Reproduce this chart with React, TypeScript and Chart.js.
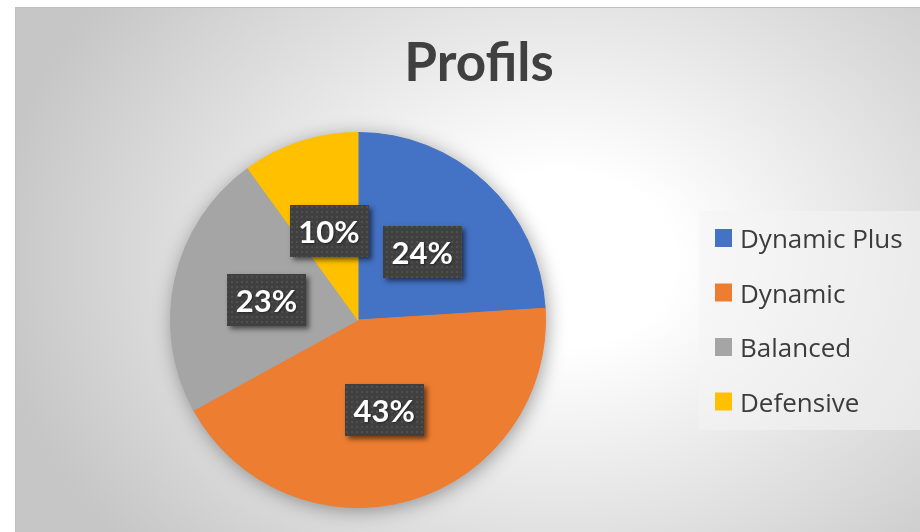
import React, { useEffect, useRef } from "react";
import { Chart, registerables } from "chart.js";
Chart.register(...registerables);

const TITLE = "Profils";
const categories = ["Dynamic Plus", "Dynamic", "Balanced", "Defensive"];
const shares = [24, 43, 23, 10];
const sliceColors = ["#4472C4", "#ED7D31", "#A5A5A5", "#FFC000"];

export default function App() {
  const ref = useRef<HTMLCanvasElement>(null);

  useEffect(() => {
    document.body.style.margin = "0";
    const canvas = ref.current!;

    const pat = document.createElement("canvas");
    pat.width = 5;
    pat.height = 5;
    const pctx = pat.getContext("2d")!;
    pctx.fillStyle = "#404040";
    pctx.fillRect(0, 0, 5, 5);
    pctx.fillStyle = "#4f4f4f";
    pctx.fillRect(1, 1, 2, 2);

    const bgPlugin = {
      id: "bgDeco",
      beforeDraw(chart: any) {
        const { ctx, width, height } = chart;
        ctx.save();
        ctx.fillStyle = "#ffffff";
        ctx.fillRect(0, 0, width, height);
        ctx.beginPath();
        ctx.rect(15, 7, width - 15, height - 7);
        ctx.clip();
        const cx = 560, cy = 260, rx = 570, ry = 440;
        ctx.translate(cx, cy);
        ctx.scale(1, ry / rx);
        const g = ctx.createRadialGradient(0, 0, 0, 0, 0, rx);
        g.addColorStop(0, "#ffffff");
        g.addColorStop(0.2, "#ffffff");
        g.addColorStop(1, "#c6c6c6");
        ctx.fillStyle = g;
        ctx.fillRect(-3000, -3000, 6000, 6000);
        ctx.restore();

        ctx.save();
        ctx.strokeStyle = "#c0c0c0";
        ctx.lineWidth = 1;
        ctx.beginPath();
        ctx.moveTo(15.5, height);
        ctx.lineTo(15.5, 7.5);
        ctx.lineTo(width, 7.5);
        ctx.stroke();
        ctx.restore();

        // title
        ctx.save();
        ctx.fillStyle = "#404040";
        ctx.font = "bold 53px Lato";
        ctx.textAlign = "center";
        ctx.textBaseline = "alphabetic";
        ctx.fillText(TITLE, 479, 81);
        ctx.restore();

        // legend
        ctx.save();
        ctx.fillStyle = "rgba(244,244,244,0.55)";
        ctx.fillRect(699, 211, width - 699, 219);
        ctx.font = "26px 'Open Sans'";
        ctx.textAlign = "left";
        ctx.textBaseline = "alphabetic";
        categories.forEach((name, i) => {
          const cyRow = 238 + i * 54.5;
          ctx.fillStyle = sliceColors[i];
          ctx.fillRect(715, cyRow - 9, 17, 18);
          ctx.fillStyle = "#3c3c3c";
          ctx.fillText(name, 740, cyRow + 10);
        });
        ctx.restore();
      },
      beforeDatasetsDraw(chart: any) {
        const meta = chart.getDatasetMeta(0);
        const el = meta.data[0];
        if (!el) return;
        const { x, y, outerRadius } = el.getProps(["x", "y", "outerRadius"], true);
        const ctx = chart.ctx;
        ctx.save();
        ctx.shadowColor = "rgba(0,0,0,0.4)";
        ctx.shadowBlur = 20;
        ctx.shadowOffsetX = 2;
        ctx.shadowOffsetY = 3;
        ctx.fillStyle = "#a5a5a5";
        ctx.beginPath();
        ctx.arc(x, y, outerRadius - 1, 0, Math.PI * 2);
        ctx.fill();
        ctx.restore();
      },
      afterDatasetsDraw(chart: any) {
        const meta = chart.getDatasetMeta(0);
        const ctx = chart.ctx;
        const total = shares.reduce((a, b) => a + b, 0);
        const pattern = ctx.createPattern(pat, "repeat");
        meta.data.forEach((el: any, i: number) => {
          const { x, y, startAngle, endAngle, outerRadius } = el.getProps(
            ["x", "y", "startAngle", "endAngle", "outerRadius"],
            true
          );
          const mid = (startAngle + endAngle) / 2;
          const r = outerRadius * 0.5;
          const px = x + Math.cos(mid) * r;
          const py = y + Math.sin(mid) * r;
          const text = Math.round((shares[i] / total) * 100) + "%";
          ctx.save();
          ctx.font = "bold 31px Lato";
          const tw = ctx.measureText(text).width;
          const bw = Math.round(tw + 18);
          const bh = 52;
          const bx = Math.round(px - bw / 2);
          const by = Math.round(py - bh / 2);
          ctx.shadowColor = "rgba(0,0,0,0.55)";
          ctx.shadowBlur = 5;
          ctx.shadowOffsetX = 3;
          ctx.shadowOffsetY = 3;
          ctx.fillStyle = "#404040";
          ctx.fillRect(bx, by, bw, bh);
          ctx.shadowColor = "transparent";
          ctx.fillStyle = pattern;
          ctx.fillRect(bx, by, bw, bh);
          ctx.shadowColor = "rgba(0,0,0,0.45)";
          ctx.shadowBlur = 2;
          ctx.shadowOffsetX = 1;
          ctx.shadowOffsetY = 1;
          ctx.fillStyle = "#ffffff";
          ctx.textAlign = "center";
          ctx.textBaseline = "alphabetic";
          ctx.fillText(text, px, by + 38);
          ctx.restore();
        });
      },
    };

    const chart = new Chart(canvas, {
      type: "pie",
      data: {
        labels: categories,
        datasets: [
          {
            data: shares,
            backgroundColor: sliceColors,
            borderColor: sliceColors,
            borderWidth: 1,
          },
        ],
      },
      options: {
        animation: false,
        responsive: true,
        maintainAspectRatio: false,
        layout: { padding: { left: 170, top: 132, right: 374, bottom: 24 } },
        plugins: {
          legend: { display: false },
          title: { display: false },
          tooltip: { enabled: false },
        },
      },
      plugins: [bgPlugin],
    });
    return () => chart.destroy();
  }, []);

  return (
    <div style={{ position: "absolute", left: 0, top: 0, width: 920, height: 532 }}>
      <canvas ref={ref} />
    </div>
  );
}
